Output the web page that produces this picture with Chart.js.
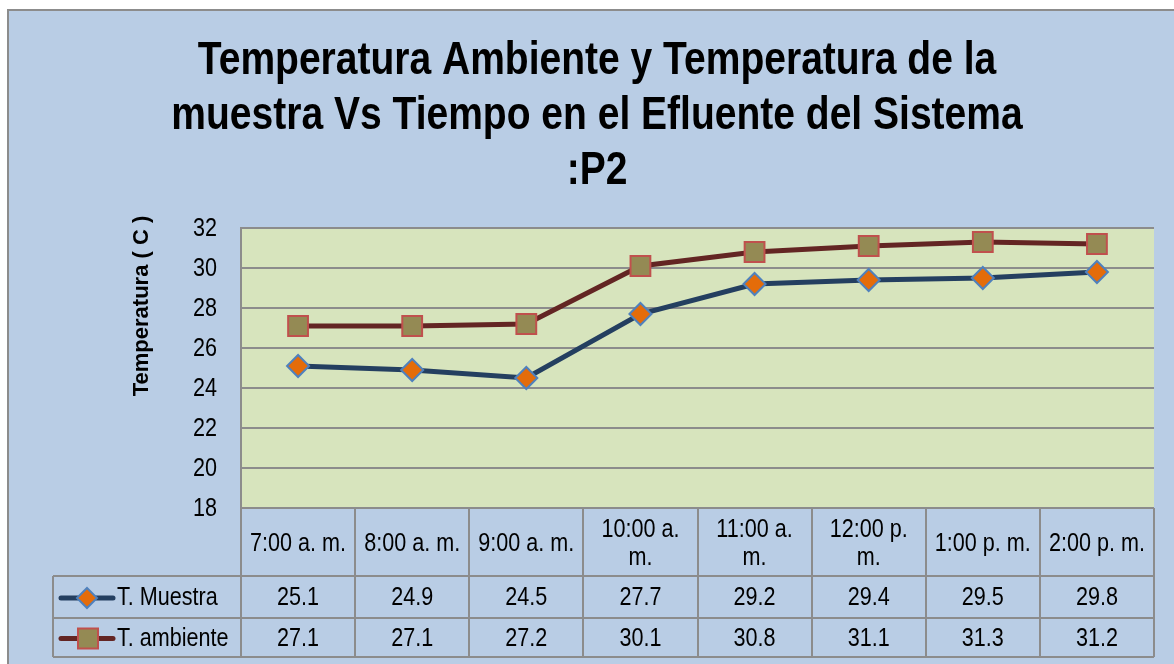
<!DOCTYPE html>
<html>
<head>
<meta charset="utf-8">
<script src="https://cdn.jsdelivr.net/npm/chart.js@4.4.1/dist/chart.umd.min.js"></script>
<style>
  html, body { margin: 0; padding: 0; background: #fff; }
  #wrap { width: 1174px; height: 664px; }
</style>
</head>
<body>
<div id="wrap"><canvas id="chart" width="1174" height="664"></canvas></div>
<script>
// data
const horas = ['7:00 a. m.', '8:00 a. m.', '9:00 a. m.', '10:00 a. m.', '11:00 a. m.', '12:00 p. m.', '1:00 p. m.', '2:00 p. m.'];
const tMuestra = [25.1, 24.9, 24.5, 27.7, 29.2, 29.4, 29.5, 29.8];
const tAmbiente = [27.1, 27.1, 27.2, 30.1, 30.8, 31.1, 31.3, 31.2];
const yMin = 18, yMax = 32, yStep = 2;
const titulo = ['Temperatura Ambiente y Temperatura de la', 'muestra Vs Tiempo en el Efluente del Sistema', ':P2'];
const ejeY = 'Temperatura ( C )';

// no Arial Narrow here, so squeeze Liberation Sans sideways
const FONT = '"Liberation Sans", Arial, sans-serif';
const SQ = 0.83;
const GRAY = '#8C8C8C';

const tableRows = [
    { label: 'T. Muestra', data: tMuestra, line: '#243F60', fill: '#E46C0A', edge: '#4F81BD', shape: 'diamond' },
    { label: 'T. ambiente', data: tAmbiente, line: '#632523', fill: '#948A54', edge: '#C0504D', shape: 'square' }
];

function narrowText(ctx, text, x, y, align) {
    ctx.save();
    ctx.translate(x, y);
    ctx.scale(SQ, 1);
    ctx.textAlign = align;
    ctx.fillText(text, 0, 0);
    ctx.restore();
}

function wrapWords(ctx, text, maxW) {
    const words = text.split(' ');
    const lines = [];
    let cur = '';
    words.forEach(w => {
        const test = cur ? cur + ' ' + w : w;
        if (ctx.measureText(test).width * SQ > maxW && cur) {
            lines.push(cur);
            cur = w;
        } else {
            cur = test;
        }
    });
    if (cur) lines.push(cur);
    return lines;
}

const decor = {
    id: 'decor',
    beforeDraw(chart) {
        const ctx = chart.ctx;
        const a = chart.chartArea;
        ctx.save();
        ctx.fillStyle = '#fff';
        ctx.fillRect(0, 0, chart.width, chart.height);
        ctx.fillStyle = '#B9CDE5';
        ctx.fillRect(7, 9, chart.width - 7, chart.height - 9);
        ctx.strokeStyle = GRAY;
        ctx.lineWidth = 2;
        ctx.beginPath();
        ctx.moveTo(8, chart.height);
        ctx.lineTo(8, 10);
        ctx.lineTo(chart.width, 10);
        ctx.stroke();
        ctx.fillStyle = '#D7E4BD';
        ctx.fillRect(a.left, a.top, a.right - a.left, a.bottom - a.top);
        ctx.restore();
    },
    afterDraw(chart) {
        const ctx = chart.ctx;
        const a = chart.chartArea;
        const xs = chart.scales.x;
        const ys = chart.scales.y;
        const n = horas.length;
        const colW = (a.right - a.left) / n;
        const top = a.bottom;
        const r1 = 576, r2 = 618, r3 = 657;
        const legL = 53;

        ctx.save();
        ctx.fillStyle = '#000';
        ctx.textBaseline = 'middle';

        // title
        ctx.font = 'bold 47px ' + FONT;
        titulo.forEach((t, i) => narrowText(ctx, t, 597, 61 + i * 55, 'center'));

        // y tick labels
        ctx.font = '26px ' + FONT;
        ys.ticks.forEach(t => narrowText(ctx, String(t.value), 217, ys.getPixelForValue(t.value) + 1, 'right'));

        // table grid
        ctx.strokeStyle = GRAY;
        ctx.lineWidth = 2;
        ctx.beginPath();
        for (let i = 0; i <= n; i++) {
            const x = Math.round(a.left + i * colW);
            ctx.moveTo(x, top);
            ctx.lineTo(x, r3);
        }
        ctx.moveTo(legL, r1); ctx.lineTo(legL, r3);
        [r1, r2, r3].forEach(y => { ctx.moveTo(legL, y); ctx.lineTo(a.right, y); });
        ctx.stroke();

        // header labels
        ctx.font = '26px ' + FONT;
        horas.forEach((h, i) => {
            const cx = xs.getPixelForValue(i);
            const lines = wrapWords(ctx, h, colW - 8);
            const lh = 28;
            const y0 = 544 - (lines.length - 1) * lh / 2;
            lines.forEach((ln, j) => narrowText(ctx, ln, cx, y0 + j * lh, 'center'));
        });

        // value rows with legend keys
        const rowsY = [(r1 + r2) / 2 + 1, (r2 + r3) / 2 + 1];
        tableRows.forEach((row, k) => {
            const cy = rowsY[k];
            ctx.fillStyle = '#000';
            row.data.forEach((v, i) => narrowText(ctx, v.toFixed(1), xs.getPixelForValue(i), cy, 'center'));
            ctx.strokeStyle = row.line;
            ctx.lineWidth = 5;
            ctx.lineCap = 'round';
            ctx.beginPath();
            ctx.moveTo(61, cy); ctx.lineTo(113, cy);
            ctx.stroke();
            ctx.lineCap = 'butt';
            ctx.fillStyle = row.fill;
            ctx.strokeStyle = row.edge;
            ctx.lineWidth = 2;
            ctx.beginPath();
            if (row.shape === 'diamond') {
                ctx.moveTo(87, cy - 10); ctx.lineTo(97, cy); ctx.lineTo(87, cy + 10); ctx.lineTo(77, cy);
                ctx.closePath();
            } else {
                ctx.rect(78, cy - 10, 20, 20);
            }
            ctx.fill();
            ctx.stroke();
            ctx.fillStyle = '#000';
            narrowText(ctx, row.label, 117, cy, 'left');
        });

        // y axis title
        ctx.translate(142, 306);
        ctx.rotate(-Math.PI / 2);
        ctx.font = 'bold 22px ' + FONT;
        ctx.textAlign = 'center';
        ctx.fillStyle = '#000';
        ctx.fillText(ejeY, 0, 0);
        ctx.restore();
    }
};

new Chart(document.getElementById('chart'), {
    type: 'line',
    data: {
        labels: horas,
        datasets: [
            {
                label: 'T. Muestra', data: tMuestra,
                borderColor: '#243F60', borderWidth: 5, tension: 0,
                pointStyle: 'rectRot', pointRadius: 11, pointHoverRadius: 11,
                pointBackgroundColor: '#E46C0A', pointBorderColor: '#4F81BD', pointBorderWidth: 2
            },
            {
                label: 'T. ambiente', data: tAmbiente,
                borderColor: '#632523', borderWidth: 5, tension: 0,
                pointStyle: 'rect', pointRadius: 14, pointHoverRadius: 14,
                pointBackgroundColor: '#948A54', pointBorderColor: '#C0504D', pointBorderWidth: 2
            }
        ]
    },
    options: {
        responsive: false,
        animation: false,
        layout: { padding: { left: 40, right: 20, top: 228, bottom: 156 } },
        plugins: {
            legend: { display: false },
            tooltip: { enabled: false },
            title: { display: false }
        },
        scales: {
            x: { display: false, offset: true },
            y: {
                min: yMin, max: yMax,
                afterFit(scale) { scale.width = 201; },
                ticks: { stepSize: yStep, display: false },
                grid: { color: GRAY, lineWidth: 2, drawTicks: false },
                border: { display: true, color: GRAY, width: 2 }
            }
        }
    },
    plugins: [decor]
});
</script>
</body>
</html>
